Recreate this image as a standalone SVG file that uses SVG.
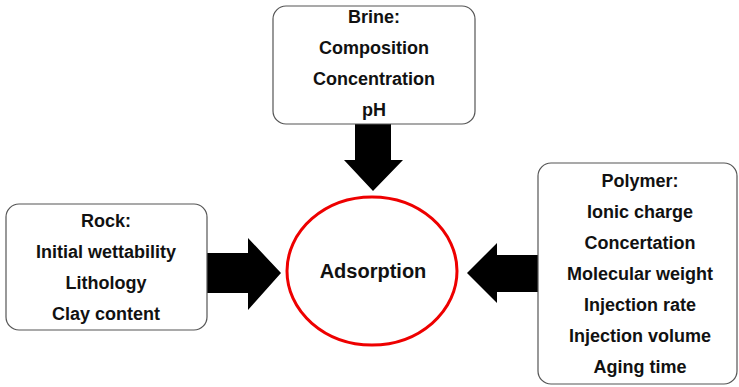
<svg xmlns="http://www.w3.org/2000/svg" width="739" height="387" viewBox="0 0 739 387">
  <style>
    .box { fill: #ffffff; stroke: #555555; stroke-width: 1.2; }
    .lbl { font-family: "Liberation Sans", Arial, sans-serif; font-weight: bold; font-size: 18px; fill: #111111; text-anchor: middle; }
    .big { font-size: 20px; }
    .arrow { fill: #000000; }
  </style>
  <rect width="739" height="387" fill="#ffffff"/>

  <g id="connectors">
    <!-- Brine -> Adsorption -->
    <polygon class="arrow" points="355,124 391,124 391,160 403,160 373,191 344,160 355,160"/>
    <!-- Rock -> Adsorption -->
    <polygon class="arrow" points="207,253 248,253 248,238 281,273 248,310 248,293 207,293"/>
    <!-- Polymer -> Adsorption -->
    <polygon class="arrow" points="538,255 497,255 497,243 467,273 497,303 497,292 538,292"/>
  </g>

  <g id="brine">
    <rect class="box" x="273" y="6" width="202" height="118" rx="13"/>
    <text class="lbl" x="374" y="23">Brine:</text>
    <text class="lbl" x="374" y="54">Composition</text>
    <text class="lbl" x="374" y="85">Concentration</text>
    <text class="lbl" x="374" y="116">pH</text>
  </g>

  <g id="rock">
    <rect class="box" x="6" y="204" width="201" height="126" rx="13"/>
    <text class="lbl" x="106" y="227">Rock:</text>
    <text class="lbl" x="106" y="258">Initial wettability</text>
    <text class="lbl" x="106" y="289">Lithology</text>
    <text class="lbl" x="106" y="320">Clay content</text>
  </g>

  <g id="polymer">
    <rect class="box" x="538" y="163" width="199" height="221" rx="13"/>
    <text class="lbl" x="640" y="187">Polymer:</text>
    <text class="lbl" x="640" y="218">Ionic charge</text>
    <text class="lbl" x="640" y="249">Concertation</text>
    <text class="lbl" x="640" y="280">Molecular weight</text>
    <text class="lbl" x="640" y="311">Injection rate</text>
    <text class="lbl" x="640" y="342">Injection volume</text>
    <text class="lbl" x="640" y="373">Aging time</text>
  </g>

  <g id="adsorption">
    <ellipse cx="372" cy="271" rx="85" ry="74" fill="#ffffff" stroke="#ee0000" stroke-width="3"/>
    <text class="lbl big" x="373" y="278">Adsorption</text>
  </g>
</svg>
